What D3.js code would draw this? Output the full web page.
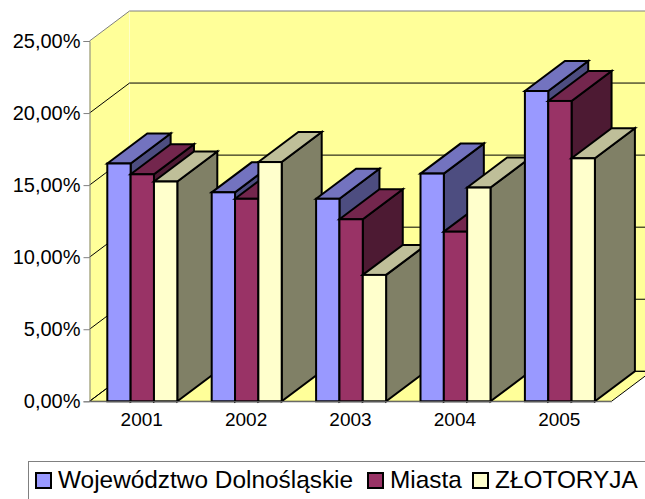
<!DOCTYPE html>
<html>
<head>
<meta charset="utf-8">
<script src="https://cdn.jsdelivr.net/npm/d3@7"></script>
<style>
  html, body { margin: 0; padding: 0; background: #fff; overflow: hidden; }
  text { font-family: "Liberation Sans", Arial, sans-serif; fill: #000; }
</style>
</head>
<body>
<svg id="chart" width="645" height="499"></svg>
<script>
const years = ["2001", "2002", "2003", "2004", "2005"];
const seriesNames = ["Województwo Dolnośląskie", "Miasta", "ZŁOTORYJA"];
const seriesColors = ["#9999ff", "#993366", "#ffffcc"];
const wojewodztwo = [16.5, 14.5, 14.05, 15.8, 21.53];
const miasta = [15.75, 14.05, 12.63, 11.77, 20.84];
const zlotoryja = [15.25, 16.6, 8.77, 14.83, 16.86];
const yTicks = [0, 5, 10, 15, 20, 25];

const seriesValues = [wojewodztwo, miasta, zlotoryja];

// depth of the fake 3d box
const depthX = 40, depthY = 30;
const plot = {left: 89.5, right: 611.5, top: 41, bottom: 401.3};

const svg = d3.select("#chart");
const shade = (color, k) => {
  const c = d3.rgb(color);
  return d3.rgb(c.r * k, c.g * k, c.b * k).formatHex();
};
const points = arr => arr.map(p => p.join(",")).join(" ");

const x = d3.scaleBand().domain(years).range([plot.left, plot.right]);
const xBar = d3.scaleBand().domain(seriesNames).range([17.8, 87.8]);
const y = d3.scaleLinear().domain([0, 25]).range([plot.bottom, plot.top]);
const wallRight = plot.right + depthX;

// Walls and floor
svg.append("polygon")
  .attr("points", points([[plot.left, y(25)], [plot.left + depthX, y(25) - depthY], [wallRight, y(25) - depthY], [wallRight, y(0) - depthY], [plot.left + depthX, y(0) - depthY], [plot.left, y(0)]]))
  .attr("fill", "#ffff99");
svg.append("polygon")
  .attr("points", points([[plot.left, y(0)], [plot.left + depthX, y(0) - depthY], [wallRight, y(0) - depthY], [plot.right, y(0)]]))
  .attr("fill", "#ffff99")
  .attr("stroke", "#000")
  .attr("stroke-width", 1);
svg.append("line")
  .attr("x1", plot.left + depthX).attr("x2", plot.left + depthX)
  .attr("y1", y(25) - depthY).attr("y2", y(0) - depthY)
  .attr("stroke", "#ffffc8").attr("stroke-width", 1);

// Gridlines, running along the left wall and then the back wall
svg.append("g").selectAll("polyline")
  .data(yTicks)
  .join("polyline")
  .attr("points", d => points([[plot.left, y(d)], [plot.left + depthX, y(d) - depthY], [wallRight, y(d) - depthY]]))
  .attr("fill", "none")
  .attr("stroke", d => d === 25 ? "#808080" : "#000")
  .attr("stroke-width", 1);

// Bars, painted left to right so later ones cover earlier ones
const bars = years.flatMap((year, i) => seriesNames.map((name, s) => ({
  year, name, color: seriesColors[s], value: seriesValues[s][i]
})));

const barG = svg.append("g")
  .attr("stroke", "#000")
  .attr("stroke-width", 2)
  .attr("stroke-linejoin", "miter")
  .selectAll("g")
  .data(bars)
  .join("g");

const barX0 = d => x(d.year) + xBar(d.name);
const barX1 = d => barX0(d) + xBar.bandwidth();

barG.append("polygon")
  .attr("fill", d => shade(d.color, 0.5))
  .attr("points", d => points([[barX1(d), y(d.value)], [barX1(d) + depthX, y(d.value) - depthY], [barX1(d) + depthX, y(0) - depthY], [barX1(d), y(0)]]));
barG.append("polygon")
  .attr("fill", d => shade(d.color, 0.75))
  .attr("points", d => points([[barX0(d), y(d.value)], [barX0(d) + depthX, y(d.value) - depthY], [barX1(d) + depthX, y(d.value) - depthY], [barX1(d), y(d.value)]]));
barG.append("rect")
  .attr("fill", d => d.color)
  .attr("x", barX0)
  .attr("y", d => y(d.value))
  .attr("width", xBar.bandwidth())
  .attr("height", d => y(0) - y(d.value));

// Axes
const yAxis = d3.axisLeft(y)
  .tickValues(yTicks)
  .tickSize(6)
  .tickPadding(3)
  .tickFormat(d => d3.format(".2f")(d).replace(".", ",") + "%");
const yAxisG = svg.append("g")
  .attr("transform", `translate(${plot.left},0)`)
  .call(yAxis);
yAxisG.selectAll("text").attr("font-size", 20).style("font-family", '"Liberation Sans", Arial, sans-serif');
yAxisG.selectAll("line, path").attr("stroke", "#808080");

const xAxis = d3.axisBottom(x).tickSize(0).tickPadding(11);
const xAxisG = svg.append("g")
  .attr("transform", `translate(0,${plot.bottom})`)
  .call(xAxis);
xAxisG.selectAll("text").attr("font-size", 19).style("font-family", '"Liberation Sans", Arial, sans-serif');
xAxisG.select("path").attr("stroke", "#808080");

// Legend, runs off the right edge like the original
svg.append("rect")
  .attr("x", 28.5).attr("y", 461.5)
  .attr("width", 640).attr("height", 60)
  .attr("fill", "#fff").attr("stroke", "#808080").attr("stroke-width", 1);

const legendSwatchX = [36, 368, 473];
const legend = svg.append("g").selectAll("g")
  .data(seriesNames)
  .join("g")
  .attr("transform", (d, i) => `translate(${legendSwatchX[i]},473)`);
legend.append("rect")
  .attr("width", 15).attr("height", 15)
  .attr("fill", (d, i) => seriesColors[i])
  .attr("stroke", "#000").attr("stroke-width", 2);
legend.append("text")
  .attr("x", 22).attr("y", 15)
  .attr("font-size", 24.4)
  .text(d => d);
</script>
</body>
</html>
